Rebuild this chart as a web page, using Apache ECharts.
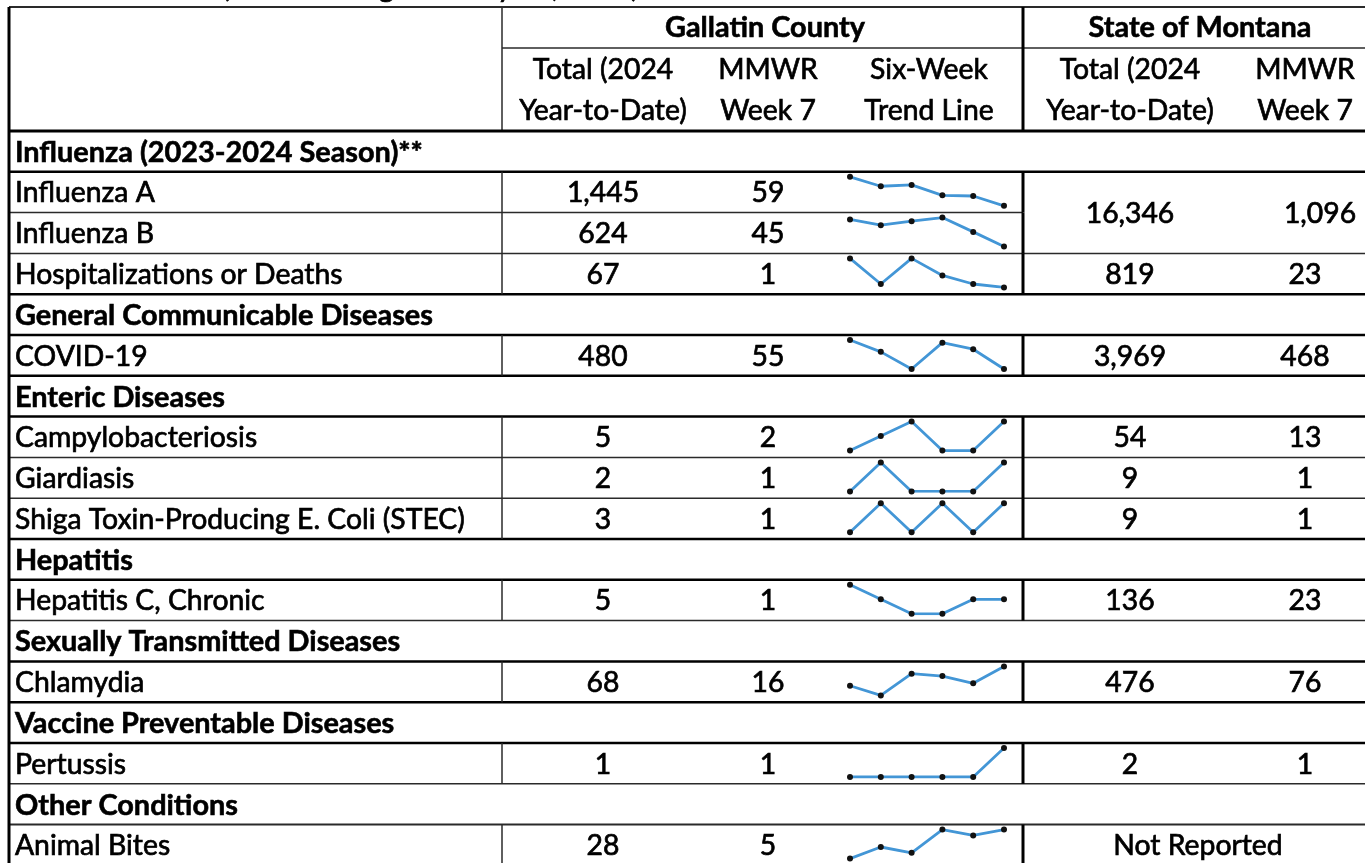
<!DOCTYPE html>
<html><head><meta charset="utf-8">
<script src="https://cdn.jsdelivr.net/npm/echarts/dist/echarts.min.js"></script>
<style>html,body{margin:0;padding:0;background:#fff}#c{width:1365px;height:863px}</style>
</head><body><div id="c"></div>
<script>
// ---------------- DATA ----------------
const titleText = '(Week Ending February 17, 2024)';
const groupHeaders = ['Gallatin County', 'State of Montana'];
const colHeaders = [
  ['Total (2024', 'Year-to-Date)'],
  ['MMWR', 'Week 7'],
  ['Six-Week', 'Trend Line'],
  ['Total (2024', 'Year-to-Date)'],
  ['MMWR', 'Week 7']
];
const weekLabels = ['Week 2', 'Week 3', 'Week 4', 'Week 5', 'Week 6', 'Week 7'];
const rowLabels = [
  'Influenza (2023-2024 Season)**', 'Influenza A', 'Influenza B', 'Hospitalizations or Deaths',
  'General Communicable Diseases', 'COVID-19',
  'Enteric Diseases', 'Campylobacteriosis', 'Giardiasis', 'Shiga Toxin-Producing E. Coli (STEC)',
  'Hepatitis', 'Hepatitis C, Chronic',
  'Sexually Transmitted Diseases', 'Chlamydia',
  'Vaccine Preventable Diseases', 'Pertussis',
  'Other Conditions', 'Animal Bites'
];
const sectionRow = [true,false,false,false,true,false,true,false,false,false,true,false,true,false,true,false,true,false];
const countyTotal = [null,1445,624,67,null,480,null,5,2,3,null,5,null,68,null,1,null,28];
const countyWeek7 = [null,59,45,1,null,55,null,2,1,1,null,1,null,16,null,1,null,5];
const stateTotal  = [null,16346,null,819,null,3969,null,54,9,9,null,136,null,476,null,2,null,null];
const stateWeek7  = [null,1096,null,23,null,468,null,13,1,1,null,23,null,76,null,1,null,null];
const stateMergedRows = {1: 2};          // Influenza A+B share one state cell
const stateNotReportedRows = [17];
const stateNote = 'Not Reported';

const trendInfluenzaA = [305, 225, 236, 148, 142, 59];
const trendInfluenzaB = [106, 93, 102, 110, 78, 45];
const trendHospDeaths = [18, 3, 18, 8, 3, 1];
const trendCovid      = [77, 68, 55, 75, 70, 55];
const trendCampylo    = [0, 1, 2, 0, 0, 2];
const trendGiardia    = [0, 1, 0, 0, 0, 1];
const trendStec       = [0, 1, 0, 1, 0, 1];
const trendHepC       = [2, 1, 0, 0, 1, 1];
const trendChlamydia  = [8, 4, 13, 12, 9, 16];
const trendPertussis  = [0, 0, 0, 0, 0, 1];
const trendAnimalBite = [0, 2, 1, 5, 4, 5];
const trendByRow = {1: trendInfluenzaA, 2: trendInfluenzaB, 3: trendHospDeaths, 5: trendCovid,
  7: trendCampylo, 8: trendGiardia, 9: trendStec, 11: trendHepC, 13: trendChlamydia,
  15: trendPertussis, 17: trendAnimalBite};

// ---------------- LAYOUT / STYLE ----------------
const L = {left: 9, c1: 502, c2: 1023, right: 1366, top: 7, hdrMid: 48, hdrBot: 131, rowH: 40.8};
const colX = [603, 768, 929, 1130, 1305];
const mergedWeekX = 1320;
const groupX = [765, 1200];
const sparkLeft = 850, sparkWidth = 154, sparkTopPad = 5, sparkHeight = 29;
const boundaryW = [3, 2.5, 1.5, 1.5, 2.5, 2.5, 2.5, 2.5, 1.5, 1.5, 2.5, 2.5, 1.5, 2.5, 2.5, 2.5, 1.5, 2];
const FONT = 'Lato';
const ink = '#000';
const thinC = '#2a2a2a', thickC = '#000';

function fitSize(text, weight, target) {
  const ctx = document.createElement('canvas').getContext('2d');
  ctx.font = weight + ' 100px ' + FONT;
  return 100 * target / ctx.measureText(text).width;
}
const fsN = fitSize('Shiga Toxin-Producing E. Coli (STEC)', 'normal', 450);
const fsB = fitSize('Influenza (2023-2024 Season)**', 'bold', 408);
const fmt = v => v.toLocaleString('en-US');
const rowTop = r => L.hdrBot + L.rowH * r;

const g = [];
function line(x1, y1, x2, y2, w, c) {
  g.push({type: 'line', z: 1, shape: {x1, y1, x2, y2}, style: {stroke: c, lineWidth: w}});
}
function text(t, x, y, bold, align) {
  g.push({type: 'text', z: 3, x, y, style: {text: t, fill: ink,
    stroke: ink, lineWidth: bold ? 0.6 : 0.7,
    font: (bold ? 'bold ' : '') + (bold ? fsB : fsN).toFixed(2) + 'px ' + FONT,
    textAlign: align || 'center', textVerticalAlign: 'middle'}});
}

// title (clipped at top)
g.push({type: 'text', z: 3, x: 222, y: 2, style: {text: titleText, fill: ink, stroke: ink, lineWidth: 0.7,
  font: fsN.toFixed(2) + 'px ' + FONT, textAlign: 'left', textVerticalAlign: 'bottom'}});

// header lines
line(L.left, L.top, L.right, L.top, 2, thinC);
line(L.c1, L.hdrMid, L.right, L.hdrMid, 1.5, thinC);
line(L.c1, L.top, L.c1, L.hdrBot, 1.5, thinC);
line(L.c2, L.top, L.c2, L.hdrBot, 3, thickC);
// header texts
text(groupHeaders[0], groupX[0], (L.top + L.hdrMid) / 2, true);
text(groupHeaders[1], groupX[1], (L.top + L.hdrMid) / 2, true);
colHeaders.forEach((h, i) => { text(h[0], colX[i], 70, false); text(h[1], colX[i], 111, false); });

// horizontal row boundaries
const nRows = rowLabels.length;
for (let k = 0; k < nRows; k++) {
  const y = rowTop(k);
  const w = boundaryW[k];
  const skipState = Object.keys(stateMergedRows).some(r => k > +r && k < +r + stateMergedRows[r]);
  line(L.left, y, skipState ? L.c2 : L.right, y, w, w > 2 ? thickC : thinC);
}
// left border
line(L.left, L.top, L.left, 870, 3, thickC);

// rows
rowLabels.forEach((lab, r) => {
  const y0 = rowTop(r), y1 = rowTop(r + 1), yc = (y0 + y1) / 2;
  if (sectionRow[r]) { text(lab, 15, yc + 1, true, 'left'); return; }
  line(L.c1, y0, L.c1, y1, 1.5, thinC);
  line(L.c2, y0, L.c2, y1, 3, thickC);
  text(lab, 15, yc + 1, false, 'left');
  if (countyTotal[r] != null) text(fmt(countyTotal[r]), colX[0], yc + 1);
  if (countyWeek7[r] != null) text(fmt(countyWeek7[r]), colX[1], yc + 1);
  if (stateMergedRows[r]) {
    const ym = (y0 + rowTop(r + stateMergedRows[r])) / 2;
    text(fmt(stateTotal[r]), colX[3], ym + 1);
    text(fmt(stateWeek7[r]), mergedWeekX, ym + 1);
  } else if (stateNotReportedRows.includes(r)) {
    text(stateNote, groupX[1] - 2, yc + 1);
  } else if (stateTotal[r] != null) {
    text(fmt(stateTotal[r]), colX[3], yc + 1);
    text(fmt(stateWeek7[r]), colX[4], yc + 1);
  }
});

// sparklines
const grids = [], xAxes = [], yAxes = [], series = [];
Object.keys(trendByRow).forEach((rk, i) => {
  const r = +rk;
  grids.push({left: sparkLeft, width: sparkWidth, top: rowTop(r) + sparkTopPad, height: sparkHeight});
  xAxes.push({type: 'category', gridIndex: i, data: weekLabels, boundaryGap: false, show: false});
  yAxes.push({type: 'value', gridIndex: i, min: 'dataMin', max: 'dataMax', show: false, scale: true});
  series.push({type: 'line', xAxisIndex: i, yAxisIndex: i, data: trendByRow[r], z: 5,
    symbol: 'circle', symbolSize: 6, showSymbol: true, silent: true, animation: false,
    lineStyle: {color: '#4396D6', width: 2.8}, itemStyle: {color: '#111'}});
});

const chart = echarts.init(document.getElementById('c'), null, {renderer: 'canvas'});
chart.setOption({
  backgroundColor: '#fff',
  animation: false,
  grid: grids, xAxis: xAxes, yAxis: yAxes, series,
  graphic: {elements: g}
});
</script></body></html>
